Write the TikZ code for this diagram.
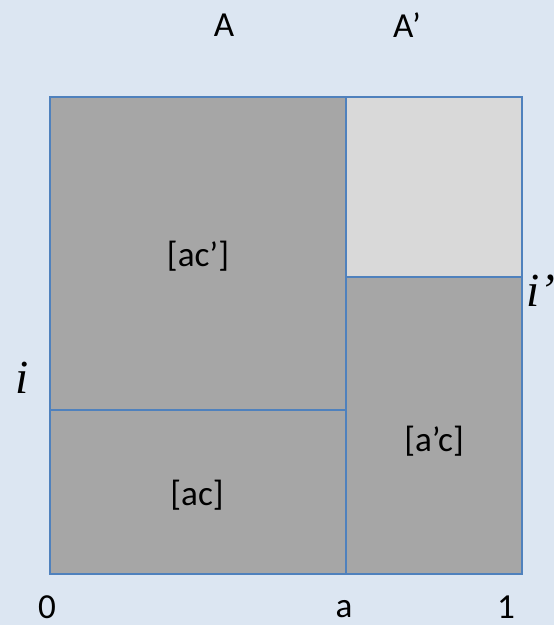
\documentclass[tikz,border=0pt]{standalone}
\usepackage{fontspec}
\setmainfont{Carlito}
\newfontfamily\varfont{Liberation Serif}
\usetikzlibrary{positioning}
\definecolor{cbg}{RGB}{220, 230, 242}
\definecolor{cline}{RGB}{79, 129, 189}
\definecolor{cdark}{RGB}{166, 166, 166}
\definecolor{clight}{RGB}{217, 217, 217}
\tikzset{
	cell/.style={%
			draw=cline,%
			line width=1.5pt},%
	lbl/.style={%
			font={\fontsize{20}{24}\selectfont},%
			inner sep=0},%
	varlbl/.style={%
			font={\fontsize{27}{32}\selectfont\varfont\itshape},%
			inner sep=0},%
}

\begin{document}
\begin{tikzpicture}[x=0.02cm, y=-0.02cm]
	\fill[cbg] (0,0) rectangle (554,625);
	\useasboundingbox (0,0) rectangle (554,625);

	\coordinate (sw) at (50,574);
	\coordinate (ne) at (522,97);
	\coordinate (atop) at (346,97);
	\coordinate (abot) at (346,574);
	\coordinate (ileft) at (50,410);
	\coordinate (imid) at (346,410);
	\coordinate (jmid) at (346,277);
	\coordinate (jright) at (522,277);

	\fill[cdark] (sw) rectangle (atop);
	\fill[clight] (jmid) rectangle (ne);
	\fill[cdark] (abot) rectangle (jright);
	\draw[cell] (sw) rectangle (ne);
	\draw[cell] (atop) -- (abot);
	\draw[cell] (ileft) -- (imid);
	\draw[cell] (jmid) -- (jright);

	\node[lbl] (acp) at (198,256) {[ac’]};
	\node[lbl] (ac) at (197,495) {[ac]};
	\node[lbl] (apc) at (434,441) {[a’c]};

	\node[lbl] (colA) at (224,25) {A};
	\node[lbl] (colAp) at (407,25) {A’};
	\node[lbl] (zero) at (47,607) {0};
	\node[lbl] (aval) at (344,609) {a};
	\node[lbl] (one) at (506,607) {1};

	\node[varlbl] (ivar) at (22,378) {i};
	\node[varlbl] (ipvar) at (541,291) {i’};
\end{tikzpicture}
\end{document}
